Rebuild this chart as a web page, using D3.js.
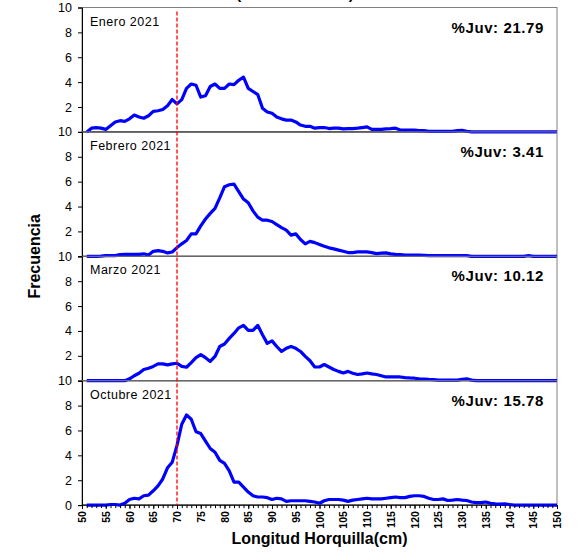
<!DOCTYPE html>
<html>
<head>
<meta charset="utf-8">
<script src="https://cdn.jsdelivr.net/npm/d3@7"></script>
<style>
  body { margin: 0; background: #fff; }
  text { font-family: Arial, "Liberation Sans", sans-serif; }
</style>
</head>
<body>
<div id="chart"></div>
<script>
// Lengths 51..150 cm
const lengths = d3.range(51, 151);

const months = ["Enero 2021", "Febrero 2021", "Marzo 2021", "Octubre 2021"];
const juv = ["21.79", "3.41", "10.12", "15.78"];

const enero = [0, 0.3, 0.35, 0.3, 0.2, 0.5, 0.8, 0.9, 0.85, 1.05,
  1.35, 1.2, 1.1, 1.3, 1.65, 1.7, 1.8, 2.1, 2.6, 2.25,
  2.6, 3.5, 3.85, 3.75, 2.8, 2.9, 3.65, 3.85, 3.5, 3.5,
  3.85, 3.8, 4.15, 4.4, 3.5, 3.25, 3.0, 1.9, 1.6, 1.5,
  1.2, 1.05, 0.95, 0.95, 0.8, 0.55, 0.45, 0.45, 0.3, 0.35,
  0.35, 0.27, 0.3, 0.3, 0.25, 0.27, 0.27, 0.3, 0.35, 0.4,
  0.2, 0.2, 0.2, 0.25, 0.27, 0.3, 0.15, 0.15, 0.15, 0.15,
  0.1, 0.1, 0.05, 0.05, 0.05, 0.05, 0.05, 0.05, 0.1, 0.13,
  0.05, 0, 0, 0, 0, 0, 0, 0, 0, 0,
  0, 0, 0, 0, 0, 0, 0, 0, 0, 0];

const febrero = [0, 0, 0, 0.02, 0.05, 0.05, 0.05, 0.13, 0.15, 0.15,
  0.15, 0.15, 0.2, 0.1, 0.4, 0.45, 0.4, 0.27, 0.35, 0.7,
  1.0, 1.27, 1.8, 1.8, 2.45, 3.0, 3.45, 3.85, 4.7, 5.6,
  5.75, 5.8, 5.2, 4.6, 4.3, 3.65, 3.15, 2.9, 2.9, 2.8,
  2.55, 2.3, 2.1, 1.7, 1.8, 1.35, 1.0, 1.2, 1.1, 0.95,
  0.8, 0.68, 0.6, 0.5, 0.4, 0.3, 0.3, 0.35, 0.35, 0.35,
  0.3, 0.22, 0.25, 0.27, 0.2, 0.15, 0.13, 0.1, 0.1, 0.1,
  0.1, 0.08, 0.05, 0.05, 0.05, 0.05, 0.05, 0.05, 0.05, 0.05,
  0.05, 0, 0, 0, 0, 0, 0, 0, 0, 0,
  0, 0, 0, 0.05, 0, 0, 0, 0, 0, 0];

const marzo = [0, 0, 0, 0, 0, 0, 0, 0, 0, 0.15,
  0.4, 0.6, 0.9, 1.0, 1.15, 1.35, 1.35, 1.27, 1.35, 1.4,
  1.15, 1.08, 1.45, 1.85, 2.1, 1.85, 1.55, 1.95, 2.75, 2.95,
  3.4, 3.8, 4.25, 4.45, 4.05, 4.05, 4.45, 3.7, 3.0, 3.2,
  2.75, 2.35, 2.6, 2.75, 2.6, 2.35, 1.95, 1.6, 1.1, 1.1,
  1.3, 1.1, 0.9, 0.75, 0.62, 0.75, 0.6, 0.5, 0.55, 0.62,
  0.55, 0.5, 0.4, 0.3, 0.3, 0.3, 0.3, 0.25, 0.22, 0.2,
  0.15, 0.13, 0.1, 0.08, 0.05, 0.05, 0.05, 0.05, 0.05, 0.1,
  0.15, 0.05, 0, 0, 0, 0, 0, 0, 0, 0,
  0, 0, 0, 0, 0, 0, 0, 0, 0, 0];

const octubre = [0, 0, 0, 0, 0, 0.05, 0.05, 0, 0.15, 0.45,
  0.55, 0.5, 0.75, 0.8, 1.15, 1.55, 2.1, 3.0, 3.45, 4.8,
  6.5, 7.25, 6.9, 5.9, 5.75, 5.15, 4.55, 4.25, 3.6, 3.35,
  2.75, 1.85, 1.85, 1.45, 1.05, 0.75, 0.65, 0.65, 0.6, 0.45,
  0.55, 0.5, 0.3, 0.35, 0.35, 0.35, 0.35, 0.3, 0.25, 0.15,
  0.35, 0.45, 0.45, 0.45, 0.4, 0.3, 0.4, 0.45, 0.5, 0.55,
  0.5, 0.5, 0.5, 0.55, 0.6, 0.65, 0.6, 0.6, 0.7, 0.75,
  0.75, 0.7, 0.55, 0.45, 0.45, 0.5, 0.37, 0.4, 0.45, 0.4,
  0.37, 0.25, 0.2, 0.2, 0.25, 0.15, 0.1, 0.08, 0.1, 0.05,
  0, 0, 0, 0, 0, 0, 0, 0, 0, 0];

const series = [enero, febrero, marzo, octubre];
const juvCut = 70;

const width = 578, height = 553;
const mLeft = 82, mRight = 557, mTop = 7.5, panelH = 124.4;

const svg = d3.select('#chart').append('svg')
  .attr('width', width)
  .attr('height', height);

const x = d3.scaleLinear().domain([50, 150]).range([mLeft, mRight]);

// title, mostly cut off at the top edge like the original
svg.append('text')
  .attr('x', 295).attr('y', -1)
  .attr('text-anchor', 'middle')
  .attr('font-size', 15).attr('font-weight', 'bold')
  .text('(Flota Industrial)');

const line = d3.line()
  .x((d, i) => x(lengths[i]))
  .curve(d3.curveLinear);

series.forEach((vals, k) => {
  const y0 = mTop + k * panelH;
  const y = d3.scaleLinear().domain([0, 10]).range([y0 + panelH, y0]);
  const g = svg.append('g');

  // frame
  g.append('rect')
    .attr('x', mLeft).attr('y', y0)
    .attr('width', mRight - mLeft).attr('height', panelH)
    .attr('fill', 'none').attr('stroke', '#808080').attr('stroke-width', 1);

  const ticks = k === series.length - 1 ? [0, 2, 4, 6, 8, 10] : [2, 4, 6, 8, 10];
  const yAxis = g.append('g')
    .attr('transform', `translate(${mLeft},0)`)
    .call(d3.axisLeft(y).tickValues(ticks).tickSize(4).tickPadding(6));
  yAxis.select('.domain').attr('stroke', '#000');
  yAxis.selectAll('text').attr('font-size', 12.5).attr('fill', '#000')
    .attr('font-family', 'Arial, "Liberation Sans", sans-serif');

  // bottom axis line of each panel
  g.append('line')
    .attr('x1', mLeft).attr('x2', mRight)
    .attr('y1', y(0)).attr('y2', y(0))
    .attr('stroke', '#000').attr('stroke-width', 1.2);

  g.append('path')
    .datum(vals)
    .attr('fill', 'none')
    .attr('stroke', '#0000ff')
    .attr('stroke-width', 3.2)
    .attr('stroke-linejoin', 'round')
    .attr('d', line.y(d => y(d)));

  g.append('text')
    .attr('x', 90).attr('y', y0 + 18)
    .attr('font-size', 12.5)
    .attr('letter-spacing', 0.5)
    .text(months[k]);

  g.append('text')
    .attr('x', 544).attr('y', y0 + 25)
    .attr('text-anchor', 'end')
    .attr('font-size', 15).attr('font-weight', 'bold')
    .attr('letter-spacing', 0.6)
    .text('%Juv: ' + juv[k]);
});

// juvenile cut line
svg.append('line')
  .attr('x1', x(juvCut)).attr('x2', x(juvCut))
  .attr('y1', mTop + 4).attr('y2', mTop + 4 * panelH)
  .attr('stroke', '#ff0000').attr('stroke-width', 1.3)
  .attr('stroke-dasharray', '4,2');

// x axis
const bottom = mTop + 4 * panelH;
const xAxis = svg.append('g')
  .attr('transform', `translate(0,${bottom})`)
  .call(d3.axisBottom(x).tickValues(d3.range(50, 151, 5)).tickSize(4).tickPadding(4));
xAxis.select('.domain').remove();
xAxis.selectAll('text')
  .attr('font-size', 10.5).attr('font-weight', 'bold').attr('fill', '#000')
  .attr('font-family', 'Arial, "Liberation Sans", sans-serif')
  .attr('transform', 'rotate(-90)')
  .attr('text-anchor', 'end')
  .attr('x', -6).attr('y', 0).attr('dy', '0.35em');

svg.append('g')
  .attr('transform', `translate(0,${bottom})`)
  .call(d3.axisBottom(x).ticks(100).tickSize(3).tickFormat(''))
  .call(s => s.select('.domain').remove());

svg.append('text')
  .attr('x', (mLeft + mRight) / 2).attr('y', 544)
  .attr('text-anchor', 'middle')
  .attr('font-size', 16).attr('font-weight', 'bold')
  .text('Longitud Horquilla(cm)');

svg.append('text')
  .attr('transform', `translate(40,${mTop + 2 * panelH}) rotate(-90)`)
  .attr('text-anchor', 'middle')
  .attr('font-size', 16).attr('font-weight', 'bold')
  .text('Frecuencia');
</script>
</body>
</html>
